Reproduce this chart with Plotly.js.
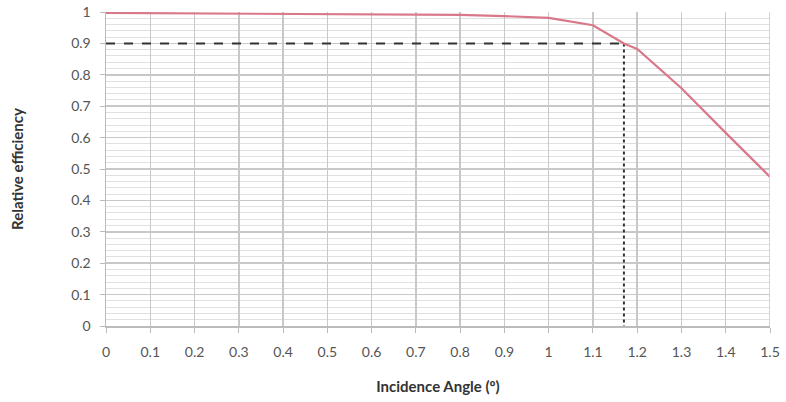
<!DOCTYPE html>
<html><head><meta charset="utf-8">
<script src="https://cdn.plot.ly/plotly-3.0.1.min.js"></script>
<style>html,body{margin:0;padding:0;background:#fff}#c{width:786px;height:402px}</style>
</head><body><div id="c"></div>
<script>
const angle = [0, 0.1, 0.2, 0.3, 0.4, 0.5, 0.6, 0.7, 0.8, 0.9, 1.0, 1.1, 1.17, 1.2, 1.3, 1.4, 1.5];
const efficiency = [0.997, 0.996, 0.996, 0.995, 0.995, 0.994, 0.993, 0.992, 0.991, 0.987, 0.981, 0.958, 0.90, 0.882, 0.757, 0.615, 0.475];
const refAngle = 1.17;
const refEff = 0.9;
const refX = [0, refAngle];
const refY = [refEff, refEff];
const vX = [refAngle, refAngle];
const vY = [refEff, 0];
const xTicks = [0,0.1,0.2,0.3,0.4,0.5,0.6,0.7,0.8,0.9,1,1.1,1.2,1.3,1.4,1.5];
const yTicks = [0,0.1,0.2,0.3,0.4,0.5,0.6,0.7,0.8,0.9,1];

const data = [
  {x: refX, y: refY, mode:'lines', line:{color:'#333', width:2, dash:'dash'}, hoverinfo:'skip'},
  {x: vX, y: vY, mode:'lines', line:{color:'#333', width:2, dash:'dot'}, hoverinfo:'skip'},
  {x: angle, y: efficiency, mode:'lines', line:{color:'#d9788a', width:2.2}}
];
const font = {family:'Lato, "Open Sans", sans-serif', color:'#555', size:14};
const titleFont = {family:'Lato, "Open Sans", sans-serif', size:15, color:'#333', weight:'bold'};
const layout = {
  width:786, height:402,
  margin:{l:106, r:16, t:12, b:76},
  showlegend:false,
  paper_bgcolor:'#fff', plot_bgcolor:'#fff',
  font: font,
  xaxis:{range:[0,1.5], tickvals:xTicks, ticktext:xTicks.map(String), showgrid:true, gridcolor:'#c8c8c8', gridwidth:1.5,
    zeroline:false, showline:true, linecolor:'#bbb', linewidth:1.5, ticks:'outside', ticklen:5, tickcolor:'#bbb',
    ticklabelstandoff:8, tickfont:font,
    title:{text:'Incidence Angle (º)', font:titleFont, standoff:22}},
  yaxis:{range:[0,1], tickvals:yTicks, ticktext:yTicks.map(String), showgrid:true, gridcolor:'#c8c8c8', gridwidth:1.5,
    zeroline:false, showline:true, linecolor:'#bbb', linewidth:1.5, ticks:'outside', ticklen:5, tickcolor:'#bbb',
    ticklabelstandoff:6, tickfont:font,
    minor:{dtick:0.02, showgrid:true, gridcolor:'#e0e0e0', gridwidth:1},
    title:{text:'Relative efficiency', font:titleFont, standoff:44}},
  shapes:[{type:'line', xref:'x', yref:'y', x0:1.5, x1:1.5, y0:0, y1:1, line:{color:'#c8c8c8', width:1.5}}]
};
Plotly.newPlot('c', data, layout, {staticPlot:true});
</script></body></html>
